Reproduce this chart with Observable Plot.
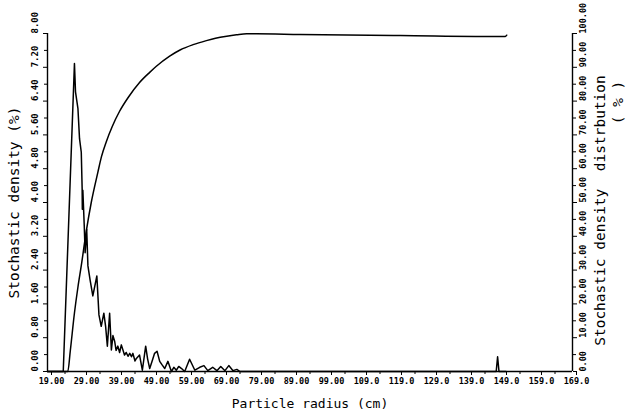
<!DOCTYPE html>
<html><head><meta charset="utf-8">
<script src="https://cdn.jsdelivr.net/npm/d3@7"></script>
<script src="https://cdn.jsdelivr.net/npm/@observablehq/plot@0.6"></script>
<style>body{margin:0;background:#fff} svg text{white-space:pre}</style>
</head><body><div id="chart"></div>
<script>
// Stochastic density (%) vs particle radius (cm)
const densityRadius = [19, 23.5, 26.7, 27.0, 27.7, 28.15, 28.65, 28.9, 28.95, 29.1, 29.5, 29.75, 30.2, 30.55, 31.2, 31.95, 33.1, 33.7, 34.35, 35.1, 35.6, 36.1, 36.75, 37.25, 37.7, 38.2, 38.6, 39.1, 39.6, 40.1, 41.0, 41.5, 42.0, 42.5, 43.0, 43.4, 44.0, 44.4, 45.3, 46.1, 47.05, 47.6, 48.2, 48.9, 49.6, 50.3, 51.06, 51.8, 52.5, 53.4, 54.4, 55.1, 55.8, 56.5, 57.3, 58.2, 59.6, 61.1, 62.5, 63.7, 64.8, 66.2, 67.4, 68.5, 69.7, 70.8, 72.0, 73.1, 74.0, 147.2, 147.6, 148.0, 150];
const densityValue  = [0, 0, 7.29, 6.62, 6.22, 5.51, 5.19, 4.32, 3.84, 4.29, 3.45, 2.81, 3.36, 2.5, 2.15, 1.79, 2.26, 1.34, 1.07, 1.38, 1.07, 0.6, 1.38, 0.51, 0.85, 0.71, 0.5, 0.6, 0.45, 0.63, 0.39, 0.45, 0.36, 0.43, 0.35, 0.43, 0.25, 0.31, 0.39, 0.03, 0.6, 0.3, 0.07, 0.25, 0.43, 0.48, 0.24, 0.15, 0.07, 0.24, 0, 0.1, 0.03, 0.12, 0.07, 0, 0.29, 0.03, 0.1, 0.14, 0.02, 0.1, 0.02, 0.12, 0.02, 0.14, 0.02, 0.05, 0, 0, 0.35, 0, 0];
// Stochastic density distribution (cumulative, %)
const cumRadius = [19, 24.8, 25.5, 26.7, 27.7, 28.65, 30.08, 31.5, 33.4, 34.4, 35.8, 37.5, 39.6, 42.0, 45.3, 48.2, 50.1, 53.9, 57.0, 60.6, 64.4, 67.0, 70.2, 73.0, 75.9, 78.7, 91.1, 119.8, 149.8, 150.2];
const cumValue  = [0, 0, 6, 17.3, 25, 31.3, 41.5, 50, 59, 63.5, 68, 72.5, 77, 81, 85.5, 88.5, 90.3, 93.3, 95.2, 96.7, 97.9, 98.6, 99.2, 99.6, 99.9, 99.9, 99.7, 99.4, 99.1, 99.5];

const xTicks = [19, 29, 39, 49, 59, 69, 79, 89, 99, 109, 119, 129, 139, 149, 159, 169];
const xTickLabels = ["19.00", "29.00", "39.00", "49.00", "59.00", "69.00", "79.00", "89.00", "99.00", "109.0", "119.0", "129.0", "139.0", "149.0", "159.0", "169.0"];
const xMinorTicks = [24, 34, 44, 54, 64, 74, 84, 94, 104, 114, 124, 134, 144, 154, 164];
const leftTicks = [0, 0.8, 1.6, 2.4, 3.2, 4.0, 4.8, 5.6, 6.4, 7.2, 8.0];
const leftTickLabels = ["0.00", "0.80", "1.60", "2.40", "3.20", "4.00", "4.80", "5.60", "6.40", "7.20", "8.00"];
const leftMinorTicks = [0.4, 1.2, 2.0, 2.8, 3.6, 4.4, 5.2, 6.0, 6.8, 7.6];
const rightTicks = [0, 10, 20, 30, 40, 50, 60, 70, 80, 90, 100];
const rightTickLabels = ["0.00", "10.00", "20.00", "30.00", "40.00", "50.00", "60.00", "70.00", "80.00", "90.00", "100.00"];
const rightMax = 100, leftMax = 8;

const density = densityRadius.map((r, i) => ({r, v: densityValue[i]}));
const cum = cumRadius.map((r, i) => ({r, v: cumValue[i] * leftMax / rightMax}));
const mono = "DejaVu Sans Mono, Liberation Mono, monospace";

const chart = Plot.plot({
  width: 628, height: 418,
  marginLeft: 47, marginRight: 56, marginTop: 33, marginBottom: 47,
  style: {fontFamily: mono, background: "#fff", color: "#000"},
  x: {domain: [19, 169]},
  y: {domain: [0, 8]},
  marks: [
    Plot.axisX({ticks: xTicks, tickFormat: d => xTickLabels[xTicks.indexOf(d)], tickSize: 4, tickPadding: 2, fontSize: 8.5, fontWeight: "bold", dx: 4, label: null}),
    Plot.axisX({ticks: xMinorTicks, tickFormat: () => "", tickSize: 3, label: null}),
    Plot.axisY({anchor: "left", ticks: leftTicks, tickFormat: d => leftTickLabels[Math.round(d / 0.8)], tickSize: 4, tickPadding: 6, tickRotate: -90, textAnchor: "start", lineAnchor: "bottom", fontSize: 9, fontWeight: "bold", label: null}),
    Plot.axisY({anchor: "left", ticks: leftMinorTicks, tickFormat: () => "", tickSize: 3, label: null}),
    Plot.axisY({anchor: "right", ticks: rightTicks.map(v => v * leftMax / rightMax), tickFormat: d => rightTickLabels[Math.round(d / 0.8)], tickSize: 4, tickPadding: 3, tickRotate: -90, textAnchor: "start", lineAnchor: "top", fontSize: 8.5, fontWeight: "bold", label: null}),
    Plot.axisY({anchor: "right", ticks: leftMinorTicks, tickFormat: () => "", tickSize: 3, label: null}),
    Plot.ruleX([19], {strokeWidth: 1.4}),
    Plot.ruleX([169], {strokeWidth: 1.4}),
    Plot.ruleY([0], {strokeWidth: 1.4}),
    Plot.line(density, {x: "r", y: "v", stroke: "#000", strokeWidth: 1.5}),
    Plot.line(cum, {x: "r", y: "v", stroke: "#000", strokeWidth: 1.5, curve: "monotone-x"}),
    Plot.text(["Stochastic density (%)"], {frameAnchor: "left", textAnchor: "middle", dx: -33, rotate: -90, fontSize: 14.5}),
    Plot.text(["Stochastic density  distrbution"], {frameAnchor: "right", textAnchor: "middle", dx: 28, dy: 8, rotate: -90, fontSize: 14.5}),
    Plot.text(["( % )"], {frameAnchor: "right", textAnchor: "middle", dx: 46, dy: -100, rotate: -90, fontSize: 14.5}),
    Plot.text(["Particle radius (cm)"], {frameAnchor: "bottom", dy: 36, fontSize: 13})
  ]
});
document.getElementById("chart").appendChild(chart);
</script>
</body></html>
